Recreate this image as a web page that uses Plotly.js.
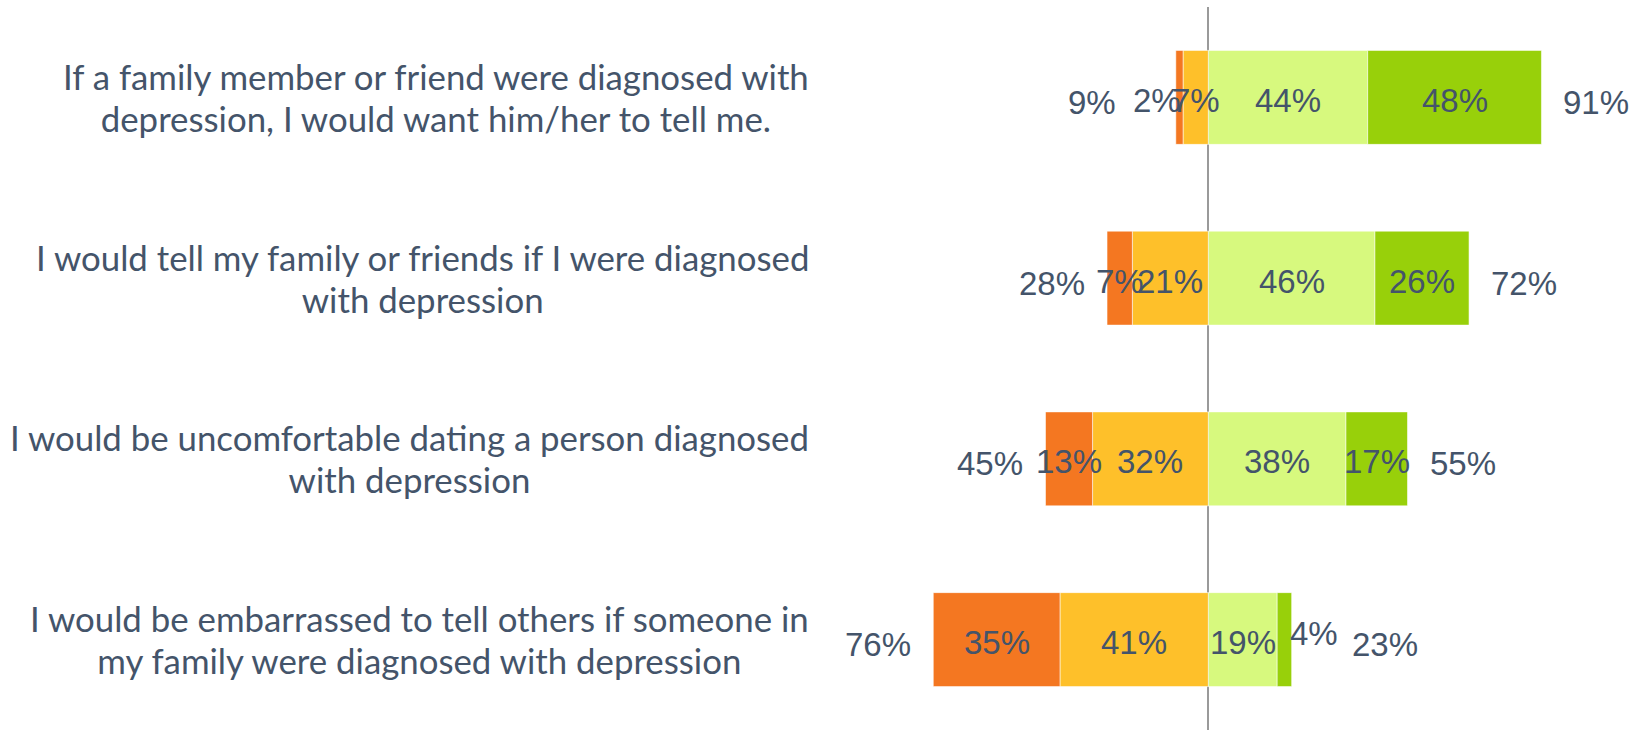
<!DOCTYPE html>
<html>
<head>
<meta charset="utf-8">
<script src="https://cdn.plot.ly/plotly-3.0.1.min.js"></script>
<style>
  html, body { margin: 0; padding: 0; background: #fff; }
  #chart { width: 1641px; height: 730px; }
</style>
</head>
<body>
<div id="chart"></div>
<script>
const categories = [
  "If a family member or friend were diagnosed with<br>depression, I would want him/her to tell me.",
  "I would tell my family or friends if I were diagnosed<br>with depression",
  "I would be uncomfortable dating a person diagnosed<br>with depression",
  "I would be embarrassed to tell others if someone in<br>my family were diagnosed with depression"
];
const strongDisagree = [2, 7, 13, 35];
const disagree = [7, 21, 32, 41];
const agree = [44, 46, 38, 19];
const strongAgree = [48, 26, 17, 4];
const negTotal = [9, 28, 45, 76];
const posTotal = [91, 72, 55, 23];

const colors = {
  strongDisagree: "#F47721",
  disagree: "#FEC02A",
  agree: "#D7F97E",
  strongAgree: "#98D00A"
};
const textColor = "#44546A";
const labelFont = { family: "Liberation Sans, Arial, sans-serif", size: 33, color: textColor };
const catFont = { family: "Lato, sans-serif", size: 32.3, color: textColor };
const catGlyphSize = 34.8;
const smallLimit = 5;

function barTrace(vals, sign, color, name) {
  return {
    type: "bar", orientation: "h", name: name,
    y: categories, x: vals.map(v => sign * v),
    marker: { color: color, line: { color: "rgba(255,255,255,0.55)", width: 1 } },
    hoverinfo: "skip", showlegend: false
  };
}

const traces = [
  barTrace(disagree, -1, colors.disagree, "Disagree"),
  barTrace(strongDisagree, -1, colors.strongDisagree, "Strongly disagree"),
  barTrace(agree, 1, colors.agree, "Agree"),
  barTrace(strongAgree, 1, colors.strongAgree, "Strongly agree")
];

const annotations = [];
function segLabel(x, y, value, anchor, xs, ys) {
  annotations.push({
    xref: "x", yref: "y", x: x, y: y, xanchor: anchor, yanchor: "middle",
    showarrow: false, xshift: xs || 0, yshift: ys === undefined ? -3 : ys,
    text: value + "%", font: labelFont
  });
}

const gap = 20, overflowExtra = 38;
categories.forEach((c, i) => {
  // category label
  const styled = c.split("<br>")
    .map(line => '<span style="font-size:' + catGlyphSize + 'px">' + line + '</span>')
    .join("<br>");
  annotations.push({
    xref: "paper", yref: "y", x: 811 / 1641, y: c, xanchor: "right", yanchor: "middle",
    align: "center", text: styled, showarrow: false, font: catFont
  });

  // segment labels
  segLabel(-disagree[i] / 2, c, disagree[i], "center");
  if (strongDisagree[i] < smallLimit) {
    segLabel(-(disagree[i] + strongDisagree[i]), c, strongDisagree[i], "right", 7);
  } else {
    segLabel(-(disagree[i] + strongDisagree[i] / 2), c, strongDisagree[i], "center");
  }
  segLabel(agree[i] / 2, c, agree[i], "center");
  if (strongAgree[i] < smallLimit) {
    segLabel(agree[i] + strongAgree[i], c, strongAgree[i], "left", -4, 6);
  } else {
    segLabel(agree[i] + strongAgree[i] / 2, c, strongAgree[i], "center");
  }

  // totals
  annotations.push({
    xref: "x", yref: "y", x: -(disagree[i] + strongDisagree[i]), y: c,
    xanchor: "right", yanchor: "middle", showarrow: false,
    xshift: -(gap + (strongDisagree[i] < smallLimit ? overflowExtra : 0)), yshift: -5,
    text: negTotal[i] + "%", font: labelFont
  });
  annotations.push({
    xref: "x", yref: "y", x: agree[i] + strongAgree[i], y: c,
    xanchor: "left", yanchor: "middle", showarrow: false,
    xshift: gap + (strongAgree[i] < smallLimit ? overflowExtra : 0), yshift: -5,
    text: posTotal[i] + "%", font: labelFont
  });
});

const layout = {
  width: 1641, height: 730,
  margin: { l: 0, r: 0, t: 7, b: 0, pad: 0 },
  paper_bgcolor: "#ffffff", plot_bgcolor: "#ffffff",
  barmode: "relative", bargap: 0.48,
  xaxis: {
    range: [-333.8, 119.5], showgrid: false, showticklabels: false, ticks: "",
    zeroline: true, zerolinecolor: "#9A9A9A", zerolinewidth: 2, layer: "above traces",
    fixedrange: true
  },
  yaxis: {
    type: "category", autorange: "reversed", showgrid: false, showticklabels: false,
    ticks: "", zeroline: false, fixedrange: true
  },
  annotations: annotations,
  showlegend: false
};

Plotly.newPlot("chart", traces, layout, { displayModeBar: false, staticPlot: true });
</script>
</body>
</html>
